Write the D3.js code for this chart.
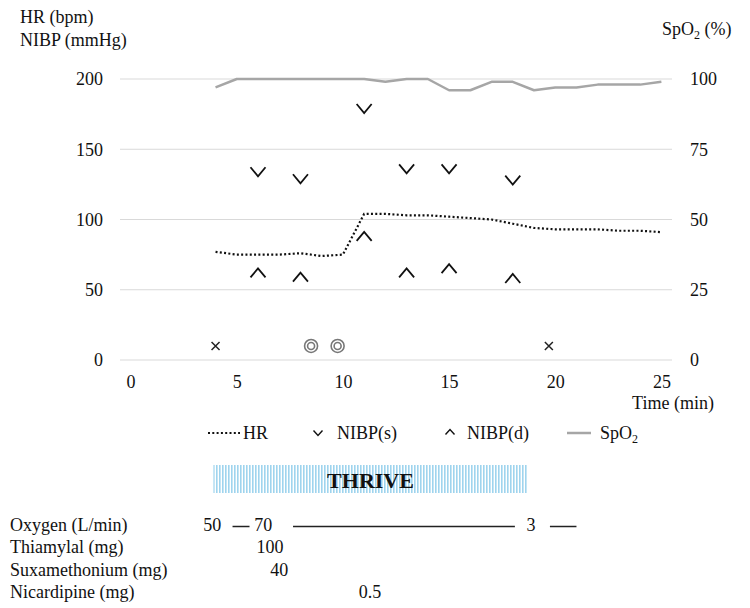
<!DOCTYPE html>
<html>
<head>
<meta charset="utf-8">
<script src="https://cdn.jsdelivr.net/npm/d3@7"></script>
<style>
  body { margin: 0; background: #fff; }
  text { font-family: "Liberation Serif", "Times New Roman", serif; fill: #111; }
</style>
</head>
<body>
<svg id="chart" width="750" height="608"></svg>
<script>
// vital signs, one reading per minute
const minutes = [4, 5, 6, 7, 8, 9, 10, 11, 12, 13, 14, 15, 16, 17, 18, 19, 20, 21, 22, 23, 24, 25];
const hr = [77, 75, 75, 75, 76, 74, 75, 104, 104, 103, 103, 102, 101, 100, 97, 94, 93, 93, 93, 92, 92, 91];
const spo2 = [97, 100, 100, 100, 100, 100, 100, 100, 99, 100, 100, 96, 96, 99, 99, 96, 97, 97, 98, 98, 98, 99];

// blood pressure readings
const nibpTimes = [6, 8, 11, 13, 15, 18];
const nibpSys = [134, 129, 179, 136, 136, 128];
const nibpDia = [62, 59, 88, 62, 65, 58];

// event marks
const crossTimes = [4, 19.7];
const circleTimes = [8.5, 9.75];
const eventLevel = 10;

const xTicks = [0, 5, 10, 15, 20, 25];
const leftTicks = [0, 50, 100, 150, 200];
const rightTicks = [0, 25, 50, 75, 100];

const thrive = [3.9, 18.7];

const drugLabels = ["Oxygen (L/min)", "Thiamylal (mg)", "Suxamethonium (mg)", "Nicardipine (mg)"];
const drugValues = [
  [{ t: 3.85, v: "50" }, { t: 6.25, v: "70" }, { t: 18.86, v: "3" }],
  [{ t: 6.57, v: "100" }],
  [{ t: 7.0, v: "40" }],
  [{ t: 11.28, v: "0.5" }]
];
const oxygenLines = [[4.8, 5.6], [7.65, 18.1], [19.75, 21]];

const svg = d3.select("#chart");
const fontFamily = '"Liberation Serif", "Times New Roman", serif';

const x = d3.scaleLinear().domain([-0.5, 25.5]).range([120, 672]);
const y = d3.scaleLinear().domain([0, 200]).range([360, 79]);
const y2 = d3.scaleLinear().domain([0, 100]).range([360, 79]);

// gridlines
svg.append("g")
  .selectAll("line")
  .data(leftTicks)
  .enter().append("line")
  .attr("x1", 120).attr("x2", 672)
  .attr("y1", d => y(d)).attr("y2", d => y(d))
  .attr("stroke", "#d9d9d9")
  .attr("stroke-width", 1);

function styleAxis(g) {
  g.select(".domain").remove();
  g.attr("font-size", 18).attr("font-family", fontFamily);
  g.selectAll("text").attr("fill", "#111");
}

svg.append("g")
  .attr("transform", "translate(120,0)")
  .call(d3.axisLeft(y).tickValues(leftTicks).tickSize(0).tickPadding(17))
  .call(styleAxis);

svg.append("g")
  .attr("transform", "translate(672,0)")
  .call(d3.axisRight(y2).tickValues(rightTicks).tickSize(0).tickPadding(18))
  .call(styleAxis);

svg.append("g")
  .attr("transform", "translate(0,360)")
  .call(d3.axisBottom(x).tickValues(xTicks).tickSize(0).tickPadding(15))
  .call(styleAxis);

// axis titles
svg.append("text").attr("x", 20).attr("y", 23).attr("font-size", 18).text("HR (bpm)");
svg.append("text").attr("x", 20).attr("y", 46).attr("font-size", 18).text("NIBP (mmHg)");
const spoTitle = svg.append("text").attr("x", 662).attr("y", 35).attr("font-size", 18);
spoTitle.append("tspan").text("SpO");
spoTitle.append("tspan").attr("font-size", 12).attr("dy", 4).text("2");
spoTitle.append("tspan").attr("dy", -4).text(" (%)");
svg.append("text").attr("x", 673).attr("y", 409).attr("text-anchor", "middle").attr("font-size", 18).text("Time (min)");

// SpO2 line
const spoLine = d3.line().x((d, i) => x(minutes[i])).y(d => y2(d));
svg.append("path")
  .datum(spo2)
  .attr("d", spoLine)
  .attr("fill", "none")
  .attr("stroke", "#a6a6a6")
  .attr("stroke-width", 2.5)
  .attr("stroke-linejoin", "round");

// HR dotted line
const hrLine = d3.line().x((d, i) => x(minutes[i])).y(d => y(d));
svg.append("path")
  .datum(hr)
  .attr("d", hrLine)
  .attr("fill", "none")
  .attr("stroke", "#111")
  .attr("stroke-width", 2.2)
  .attr("stroke-dasharray", "2,2.3");

// NIBP markers
function vPath(cx, cy, w, h) {
  return `M${cx - w / 2},${cy - h / 2}L${cx},${cy + h / 2}L${cx + w / 2},${cy - h / 2}`;
}
function caretPath(cx, cy, w, h) {
  return `M${cx - w / 2},${cy + h / 2}L${cx},${cy - h / 2}L${cx + w / 2},${cy + h / 2}`;
}

svg.append("g").selectAll("path")
  .data(nibpSys)
  .enter().append("path")
  .attr("d", (d, i) => vPath(x(nibpTimes[i]), y(d), 15, 9))
  .attr("fill", "none").attr("stroke", "#111").attr("stroke-width", 1.8);

svg.append("g").selectAll("path")
  .data(nibpDia)
  .enter().append("path")
  .attr("d", (d, i) => caretPath(x(nibpTimes[i]), y(d), 15, 9))
  .attr("fill", "none").attr("stroke", "#111").attr("stroke-width", 1.8);

// event marks
svg.append("g").selectAll("path")
  .data(crossTimes)
  .enter().append("path")
  .attr("d", d => {
    const cx = x(d), cy = y(eventLevel), s = 4;
    return `M${cx - s},${cy - s}L${cx + s},${cy + s}M${cx - s},${cy + s}L${cx + s},${cy - s}`;
  })
  .attr("stroke", "#222").attr("stroke-width", 1.5);

const circles = svg.append("g").selectAll("g")
  .data(circleTimes)
  .enter().append("g")
  .attr("transform", d => `translate(${x(d)},${y(eventLevel)})`);
circles.append("circle").attr("r", 6.5).attr("fill", "#fff").attr("stroke", "#777").attr("stroke-width", 1.6);
circles.append("circle").attr("r", 3.5).attr("fill", "none").attr("stroke", "#777").attr("stroke-width", 1.6);

// legend
const legend = svg.append("g");
legend.append("line").attr("x1", 208).attr("x2", 240).attr("y1", 433).attr("y2", 433)
  .attr("stroke", "#111").attr("stroke-width", 2).attr("stroke-dasharray", "2,2.3");
legend.append("text").attr("x", 243).attr("y", 439).attr("font-size", 18).text("HR");
legend.append("path").attr("d", vPath(318, 433, 9, 5))
  .attr("fill", "none").attr("stroke", "#111").attr("stroke-width", 1.4);
legend.append("text").attr("x", 337).attr("y", 439).attr("font-size", 18).text("NIBP(s)");
legend.append("path").attr("d", caretPath(450, 432, 9, 5))
  .attr("fill", "none").attr("stroke", "#111").attr("stroke-width", 1.4);
legend.append("text").attr("x", 467).attr("y", 439).attr("font-size", 18).text("NIBP(d)");
legend.append("line").attr("x1", 567).attr("x2", 591).attr("y1", 433).attr("y2", 433)
  .attr("stroke", "#a6a6a6").attr("stroke-width", 2.5);
const spoLegend = legend.append("text").attr("x", 600).attr("y", 439).attr("font-size", 18);
spoLegend.append("tspan").text("SpO");
spoLegend.append("tspan").attr("font-size", 12).attr("dy", 4).text("2");

// THRIVE bar
const defs = svg.append("defs");
const pat = defs.append("pattern")
  .attr("id", "stripes")
  .attr("patternUnits", "userSpaceOnUse")
  .attr("width", 3).attr("height", 10);
pat.append("rect").attr("width", 3).attr("height", 10).attr("fill", "#fff");
pat.append("rect").attr("width", 1.6).attr("height", 10).attr("fill", "#9fd4ee");

svg.append("rect")
  .attr("x", x(thrive[0]))
  .attr("y", 465)
  .attr("width", x(thrive[1]) - x(thrive[0]))
  .attr("height", 28)
  .attr("fill", "url(#stripes)");
svg.append("text")
  .attr("x", (x(thrive[0]) + x(thrive[1])) / 2)
  .attr("y", 488)
  .attr("text-anchor", "middle")
  .attr("font-size", 22)
  .attr("font-weight", "bold")
  .text("THRIVE");

// drug table
const rowY = d3.scaleLinear().domain([0, 3]).range([531, 598]);
svg.append("g").selectAll("text")
  .data(drugLabels)
  .enter().append("text")
  .attr("x", 10)
  .attr("y", (d, i) => rowY(i))
  .attr("font-size", 18)
  .text(d => d);

drugValues.forEach((row, i) => {
  svg.append("g").selectAll("text")
    .data(row)
    .enter().append("text")
    .attr("x", d => x(d.t))
    .attr("y", rowY(i))
    .attr("text-anchor", "middle")
    .attr("font-size", 18)
    .text(d => d.v);
});

svg.append("g").selectAll("line")
  .data(oxygenLines)
  .enter().append("line")
  .attr("x1", d => x(d[0])).attr("x2", d => x(d[1]))
  .attr("y1", rowY(0) - 4.5).attr("y2", rowY(0) - 4.5)
  .attr("stroke", "#222").attr("stroke-width", 1.5);
</script>
</body>
</html>
